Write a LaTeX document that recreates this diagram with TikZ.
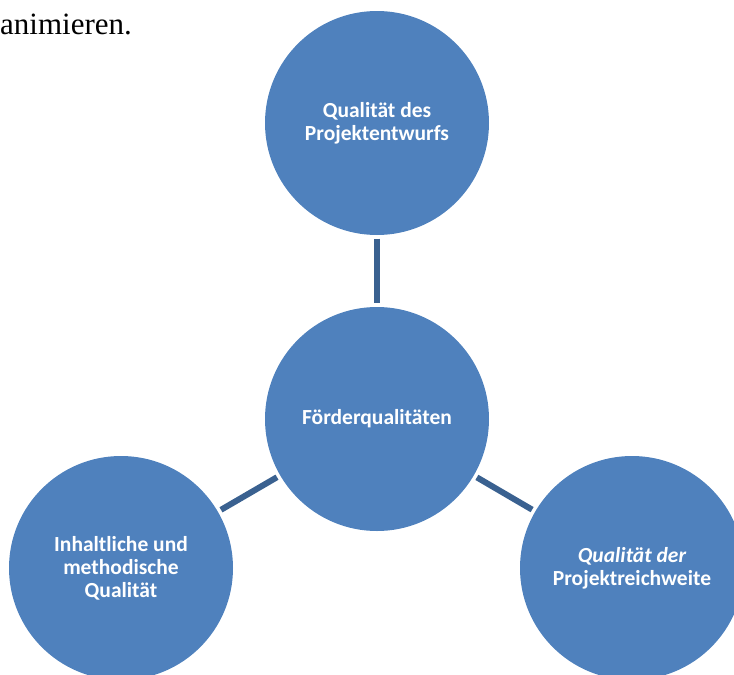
\documentclass[tikz,border=0pt]{standalone}
\usepackage{fontspec}
\setmainfont{Liberation Serif}
\newfontfamily\kreisfont{Carlito}
\definecolor{kreisblau}{HTML}{4F81BD}
\definecolor{linienblau}{HTML}{3A6190}

\begin{document}
\begin{tikzpicture}[x=1pt, y=-1pt,
    kreis/.style={circle, fill=kreisblau, minimum size=224pt, inner sep=0pt,
      text=white, align=center, font=\kreisfont\bfseries\fontsize{21.5}{23}\selectfont},
    verbindung/.style={linienblau, line width=6pt, shorten <=3.5pt, shorten >=3.5pt}]

    % --- 1. Rahmen ---
    \useasboundingbox (0,0) rectangle (734,675);

    % --- 2. Mittelpunkte der Kreise ---
    % xMid: Mittelachse, xLinks/xRechts: untere Kreise
    \def\xMid{377}
    \def\xLinks{121}
    \def\xRechts{632}
    \def\yOben{123}
    \def\yMitte{419}
    \def\yUnten{568}

    % --- 3. Textzeile oben links ---
    \node[anchor=base west, inner sep=0pt, font=\fontsize{31}{36}\selectfont]
      (txt) at (0,34) {animieren.};

    % --- 4. Kreise ---
    \node[kreis] (qEntwurf)    at (\xMid,    \yOben)  {Qualität des\\Projektentwurfs};
    \node[kreis] (qFoerder)    at (\xMid,    \yMitte) {Förderqualitäten};
    \node[kreis] (qInhalt)     at (\xLinks,  \yUnten) {Inhaltliche und\\methodische\\Qualität};
    \node[kreis] (qReichweite) at (\xRechts, \yUnten) {\itshape Qualität der\\Projektreichweite};

    % --- 5. Verbindungen ---
    \draw[verbindung] (qEntwurf) -- (qFoerder);
    \draw[verbindung] (qFoerder) -- (qInhalt);
    \draw[verbindung] (qFoerder) -- (qReichweite);

  \end{tikzpicture}
\end{document}
